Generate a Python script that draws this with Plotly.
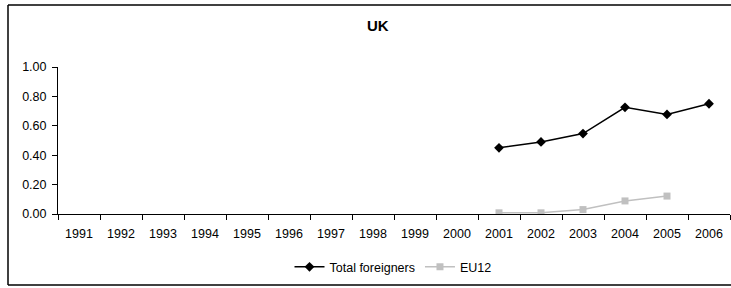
import plotly.graph_objects as go

years = [str(y) for y in range(1991, 2007)]
total_years = ["2001", "2002", "2003", "2004", "2005", "2006"]
total_values = [0.45, 0.49, 0.547, 0.726, 0.677, 0.75]
eu12_years = ["2001", "2002", "2003", "2004", "2005"]
eu12_values = [0.008, 0.008, 0.03, 0.089, 0.122]
y_ticks = [0, 0.2, 0.4, 0.6, 0.8, 1.0]

W, H = 731, 288
L, R, T, B = 58, 1, 66.5, 73.5
pw, ph = W - L - R, H - T - B

def px_x(px):
    return (px - L) / pw

def px_y(py):
    return (H - B - py) / ph

FONT = "Liberation Sans, Arial, sans-serif"
FS = 12.5

fig = go.Figure()
fig.add_trace(go.Scatter(
    x=total_years, y=total_values, name="Total foreigners",
    mode="lines+markers",
    line=dict(color="#000000", width=1.5),
    marker=dict(symbol="diamond", size=7.5, color="#000000"),
))
fig.add_trace(go.Scatter(
    x=eu12_years, y=eu12_values, name="EU12",
    mode="lines+markers",
    line=dict(color="#c0c0c0", width=1.5),
    marker=dict(symbol="square", size=7, color="#c0c0c0"),
))

border = dict(color="#000000", width=1.5)
bx0, bx1, by0, by1 = px_x(8), px_x(735), px_y(286), px_y(4)

fig.update_layout(
    width=W, height=H,
    margin=dict(l=L, r=R, t=T, b=B, pad=0),
    paper_bgcolor="white", plot_bgcolor="white",
    font=dict(family=FONT, size=FS, color="#000000"),
    showlegend=True,
    legend=dict(orientation="h", x=px_x(393), y=px_y(268), xanchor="center", yanchor="middle",
                font=dict(size=FS), bgcolor="rgba(0,0,0,0)", itemwidth=30),
    xaxis=dict(type="category", categoryorder="array", categoryarray=years,
               tickvals=years, ticktext=years,
               range=[-0.5, 15.5], tickson="boundaries",
               showline=True, linecolor="#000000", linewidth=1,
               ticks="outside", ticklen=5, tickcolor="#000000", tickwidth=1,
               showgrid=False, zeroline=False, ticklabelstandoff=8),
    yaxis=dict(range=[0, 1.0], tickvals=y_ticks, tickformat=".2f",
               showline=True, linecolor="#000000", linewidth=1,
               ticks="outside", ticklen=5, tickcolor="#000000", tickwidth=1,
               showgrid=False, zeroline=False, ticklabelstandoff=3),
    shapes=[
        dict(type="line", xref="paper", yref="paper", x0=bx0, x1=bx1, y0=by1, y1=by1, line=border),
        dict(type="line", xref="paper", yref="paper", x0=bx0, x1=bx1, y0=by0, y1=by0, line=border),
        dict(type="line", xref="paper", yref="paper", x0=bx0, x1=bx0, y0=by0, y1=by1, line=border),
    ],
    annotations=[dict(text="<b>UK</b>", xref="paper", yref="paper",
                      x=px_x(378), y=px_y(25), xanchor="center", yanchor="middle",
                      showarrow=False, font=dict(size=15, family=FONT))],
)

fig.write_html("out.html", config={"displayModeBar": False},
               post_script="document.body.style.margin='0';document.body.style.overflow='hidden';")
